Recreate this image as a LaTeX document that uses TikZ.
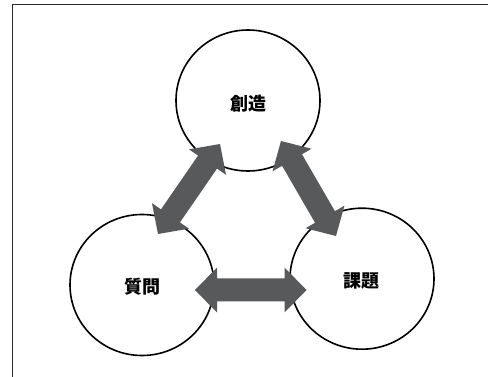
\documentclass[tikz,border=0pt]{standalone}
\usepackage{fontspec}
\newfontfamily\jpfont{Noto Sans CJK JP}
\usetikzlibrary{calc,shapes.geometric}

\definecolor{arrowgray}{RGB}{88,89,91}
\definecolor{framegray}{RGB}{45,45,45}

% Two-headed block arrow between two named tip coordinates
\newcommand\blockarrow[3]{% #1 = name prefix, #2 = first tip, #3 = second tip
  \coordinate (#1-h1) at ($(#2)!22pt!(#3)$);
  \coordinate (#1-h2) at ($(#3)!22pt!(#2)$);
  \fill[arrowfill]
    (#2)
    -- ($(#1-h1)!22.5pt!90:(#3)$)
    -- ($(#1-h1)!11.5pt!90:(#3)$)
    -- ($(#1-h2)!11.5pt!-90:(#2)$)
    -- ($(#1-h2)!22.5pt!-90:(#2)$)
    -- (#3)
    -- ($(#1-h2)!22.5pt!90:(#2)$)
    -- ($(#1-h2)!11.5pt!90:(#2)$)
    -- ($(#1-h1)!11.5pt!-90:(#3)$)
    -- ($(#1-h1)!22.5pt!-90:(#3)$)
    -- cycle;
}

\begin{document}
\begin{tikzpicture}[x=1pt,y=-1pt,
  bubble/.style={ellipse, draw=black, line width=1.6pt, fill=white,
    minimum width=144pt, minimum height=141pt, inner sep=0pt},
  arrowfill/.style={fill=arrowgray},
  label/.style={font=\jpfont\bfseries\fontsize{18}{21}\selectfont, inner sep=0pt}]
\useasboundingbox (0,0) rectangle (488,377);

% frame edges
\draw[framegray, line width=1.4pt] (12.3,377) -- (12.3,4.5) -- (488,4.5);

% the three circles
\node[bubble] (souzou) at (248,100.5) {};
\node[bubble] (shitsumon) at (142,285) {};
\node[bubble] (kadai) at (362,278.7) {};

% labels
\node[label] (t-souzou) at (248,104) {創造};
\node[label] (t-shitsumon) at (142,287) {質問};
\node[label] (t-kadai) at (361.5,281) {課題};

% arrow tips
\coordinate (sq-a) at (158,234);
\coordinate (sq-b) at (220,144);
\coordinate (sk-a) at (281,141);
\coordinate (sk-b) at (336,236);
\coordinate (qk-a) at (195,290);
\coordinate (qk-b) at (306.5,290);

\blockarrow{sq}{sq-a}{sq-b}
\blockarrow{sk}{sk-a}{sk-b}
\blockarrow{qk}{qk-a}{qk-b}
\end{tikzpicture}
\end{document}
